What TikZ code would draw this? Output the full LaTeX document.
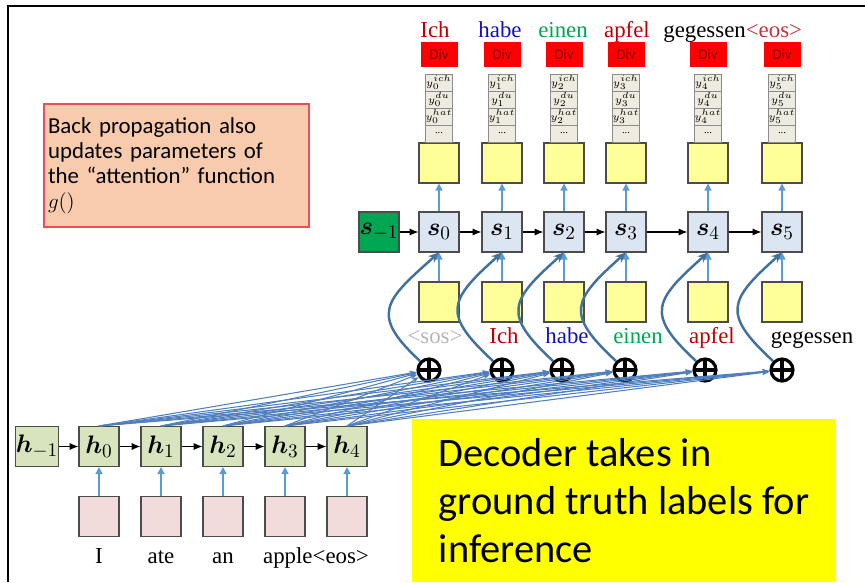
\documentclass[tikz,border=0pt]{standalone}
\usepackage{amsmath,bm}
\usepackage{fontspec}
\setmainfont{Liberation Serif}
\newfontfamily\calibri{Carlito}
\usetikzlibrary{arrows.meta}
\definecolor{hgreen}{HTML}{D7E4BD}
\definecolor{sblue}{HTML}{DCE6F2}
\definecolor{sgreen}{HTML}{00A651}
\definecolor{xpink}{HTML}{F2DCDB}
\definecolor{yyellow}{HTML}{FFFF99}
\definecolor{stackgray}{HTML}{EEECE1}
\definecolor{divred}{HTML}{FF0000}
\definecolor{divtext}{HTML}{7F0000}
\definecolor{feedblue}{HTML}{5B9BD5}
\definecolor{ctxblue}{HTML}{41719C}
\definecolor{attnblue}{HTML}{4F7FC0}
\definecolor{notefill}{HTML}{F8CBAD}
\definecolor{noteborder}{HTML}{E8505A}
\definecolor{infoyellow}{HTML}{FFFF00}
\definecolor{lred}{HTML}{C00000}
\definecolor{lblue}{HTML}{1010C0}
\definecolor{lgreen}{HTML}{00A850}
\definecolor{lgray}{HTML}{B4B4B4}
\definecolor{eosred}{HTML}{C8303A}
\tikzset{
  cellbox/.style={draw=black!70, line width=0.6pt, minimum size=0.8cm, inner sep=0pt, font=\rmfamily\fontsize{15}{17}\selectfont},
  encbox/.style={cellbox, fill=hgreen},
  decbox/.style={cellbox, fill=sblue},
  startbox/.style={cellbox, fill=sgreen},
  embbox/.style={cellbox, fill=xpink},
  outbox/.style={cellbox, fill=yyellow},
  stackcell/.style={draw=black!45, fill=stackgray, minimum width=0.54cm, minimum height=0.34cm, inner sep=0pt, font=\rmfamily\fontsize{6}{6.5}\selectfont},
  divbox/.style={fill=divred, minimum width=0.74cm, minimum height=0.5cm, inner sep=0pt, text=divtext, font=\calibri\fontsize{8.5}{9}\selectfont},
  word/.style={anchor=base, inner sep=0pt, font=\rmfamily\fontsize{13}{15}\selectfont},
  plusnode/.style={circle, draw, line width=1.8pt, minimum size=0.44cm, inner sep=0pt,
    path picture={\draw[line width=1.8pt] (path picture bounding box.north) -- (path picture bounding box.south) (path picture bounding box.west) -- (path picture bounding box.east);}},
  feed/.style={draw=feedblue, line width=0.8pt, -{Triangle[width=4pt,length=4pt]}},
  recur/.style={line width=0.6pt, -{Latex[length=5pt,width=4pt]}},
  attn/.style={draw=attnblue, line width=0.6pt, -{Stealth[length=4pt,width=3pt]}},
  ctx/.style={draw=ctxblue, line width=1.4pt, -{Stealth[length=6pt,width=5pt]}},
}
\begin{document}
\begin{tikzpicture}[x=0.02cm,y=-0.02cm]
\useasboundingbox (0,0) rectangle (865,582);
\draw[line width=1.7pt] (8,582) -- (8,6) -- (865,6);

\node[encbox] (hm) at (37,446.5) {$\bm{h}_{-1}$};
\foreach \i/\x/\w in {0/99/I,1/161/ate,2/223/an} {
  \node[encbox] (h\i) at (\x,446.5) {$\bm{h}_\i$};
  \node[embbox] (x\i) at (\x,516.5) {};
  \node[word] (w\i) at (\x,563) {\w};
}
\foreach \i/\x in {3/285,4/347} {
  \node[encbox] (h\i) at (\x,446.5) {$\bm{h}_\i$};
  \node[embbox] (x\i) at (\x,516.5) {};
}
\node[word] (w3) at (316,563) {apple\textless eos\textgreater};
\draw[recur] (hm) -- (h0);
\foreach \i/\j in {0/1,1/2,2/3,3/4} \draw[recur] (h\i) -- (h\j);
\foreach \i in {0,...,4} \draw[feed] (x\i) -- (h\i);

\node[startbox] (sm) at (379,232) {$\bm{s}_{-1}$};
\foreach \i/\x in {0/439,1/502,2/564,3/626,4/708,5/782} {
  \node[decbox] (s\i) at (\x,232) {$\bm{s}_\i$};
  \node[outbox] (o\i) at (\x,163) {};
  \node[outbox] (u\i) at (\x,302) {};
  \node[stackcell] (c\i a) at (\x,82.5) {$y_\i^{ich}$};
  \node[stackcell] (c\i b) at (\x,99.5) {$y_\i^{du}$};
  \node[stackcell] (c\i c) at (\x,116.5) {$y_\i^{hat}$};
  \node[stackcell] (c\i d) at (\x,133.5) {...};
  \node[divbox] (d\i) at (\x,54.5) {Div};
  \draw[feed] (s\i) -- (o\i);
  \draw[feed] (u\i) -- (s\i);
}
\draw[recur] (sm) -- (s0);
\foreach \i/\j in {0/1,1/2,2/3,3/4,4/5} \draw[recur] (s\i) -- (s\j);

\node[word, text=lred] (t0) at (435,37) {Ich};
\node[word, text=lblue] (t1) at (500,37) {habe};
\node[word, text=lgreen] (t2) at (563,37) {einen};
\node[word, text=lred] (t3) at (627,37) {apfel};
\node[word, anchor=base west] (t4) at (663,37) {gegessen\textcolor{eosred}{\textless eos\textgreater}};

\node[word, text=lgray] (b0) at (435,343) {\textless sos\textgreater};
\node[word, text=lred] (b1) at (504,343) {Ich};
\node[word, text=lblue] (b2) at (567,343) {habe};
\node[word, text=lgreen] (b3) at (638,343) {einen};
\node[word, text=lred] (b4) at (712,343) {apfel};
\node[word] (b5) at (812,343) {gegessen};

\foreach \i/\x in {0/429,1/502,2/562,3/625,4/705,5/782} {
  \node[plusnode] (p\i) at (\x,370) {};
  \draw[ctx] (p\i.north west) .. controls +(-51,-47) and +(-54,48) .. (s\i.south);
}
\foreach \i in {0,...,4} \foreach \j in {0,...,5} \draw[attn] (h\i.north) -- (p\j);

\node[fill=notefill, draw=noteborder, line width=0.6pt, minimum width=5.3cm, minimum height=2.46cm, inner xsep=0.08cm, text width=5.14cm, align=left, font=\calibri\fontsize{13}{14.2}\selectfont] (note) at (176.5,165.5) {Back propagation also\\updates parameters of\\the “attention” function\\$g()$};
\node[fill=infoyellow, minimum width=8.48cm, minimum height=3.26cm, align=left, font=\calibri\fontsize{23}{27.2}\selectfont] (info) at (624,500.5) {Decoder takes in\\ground truth labels for\\inference};
\end{tikzpicture}
\end{document}
